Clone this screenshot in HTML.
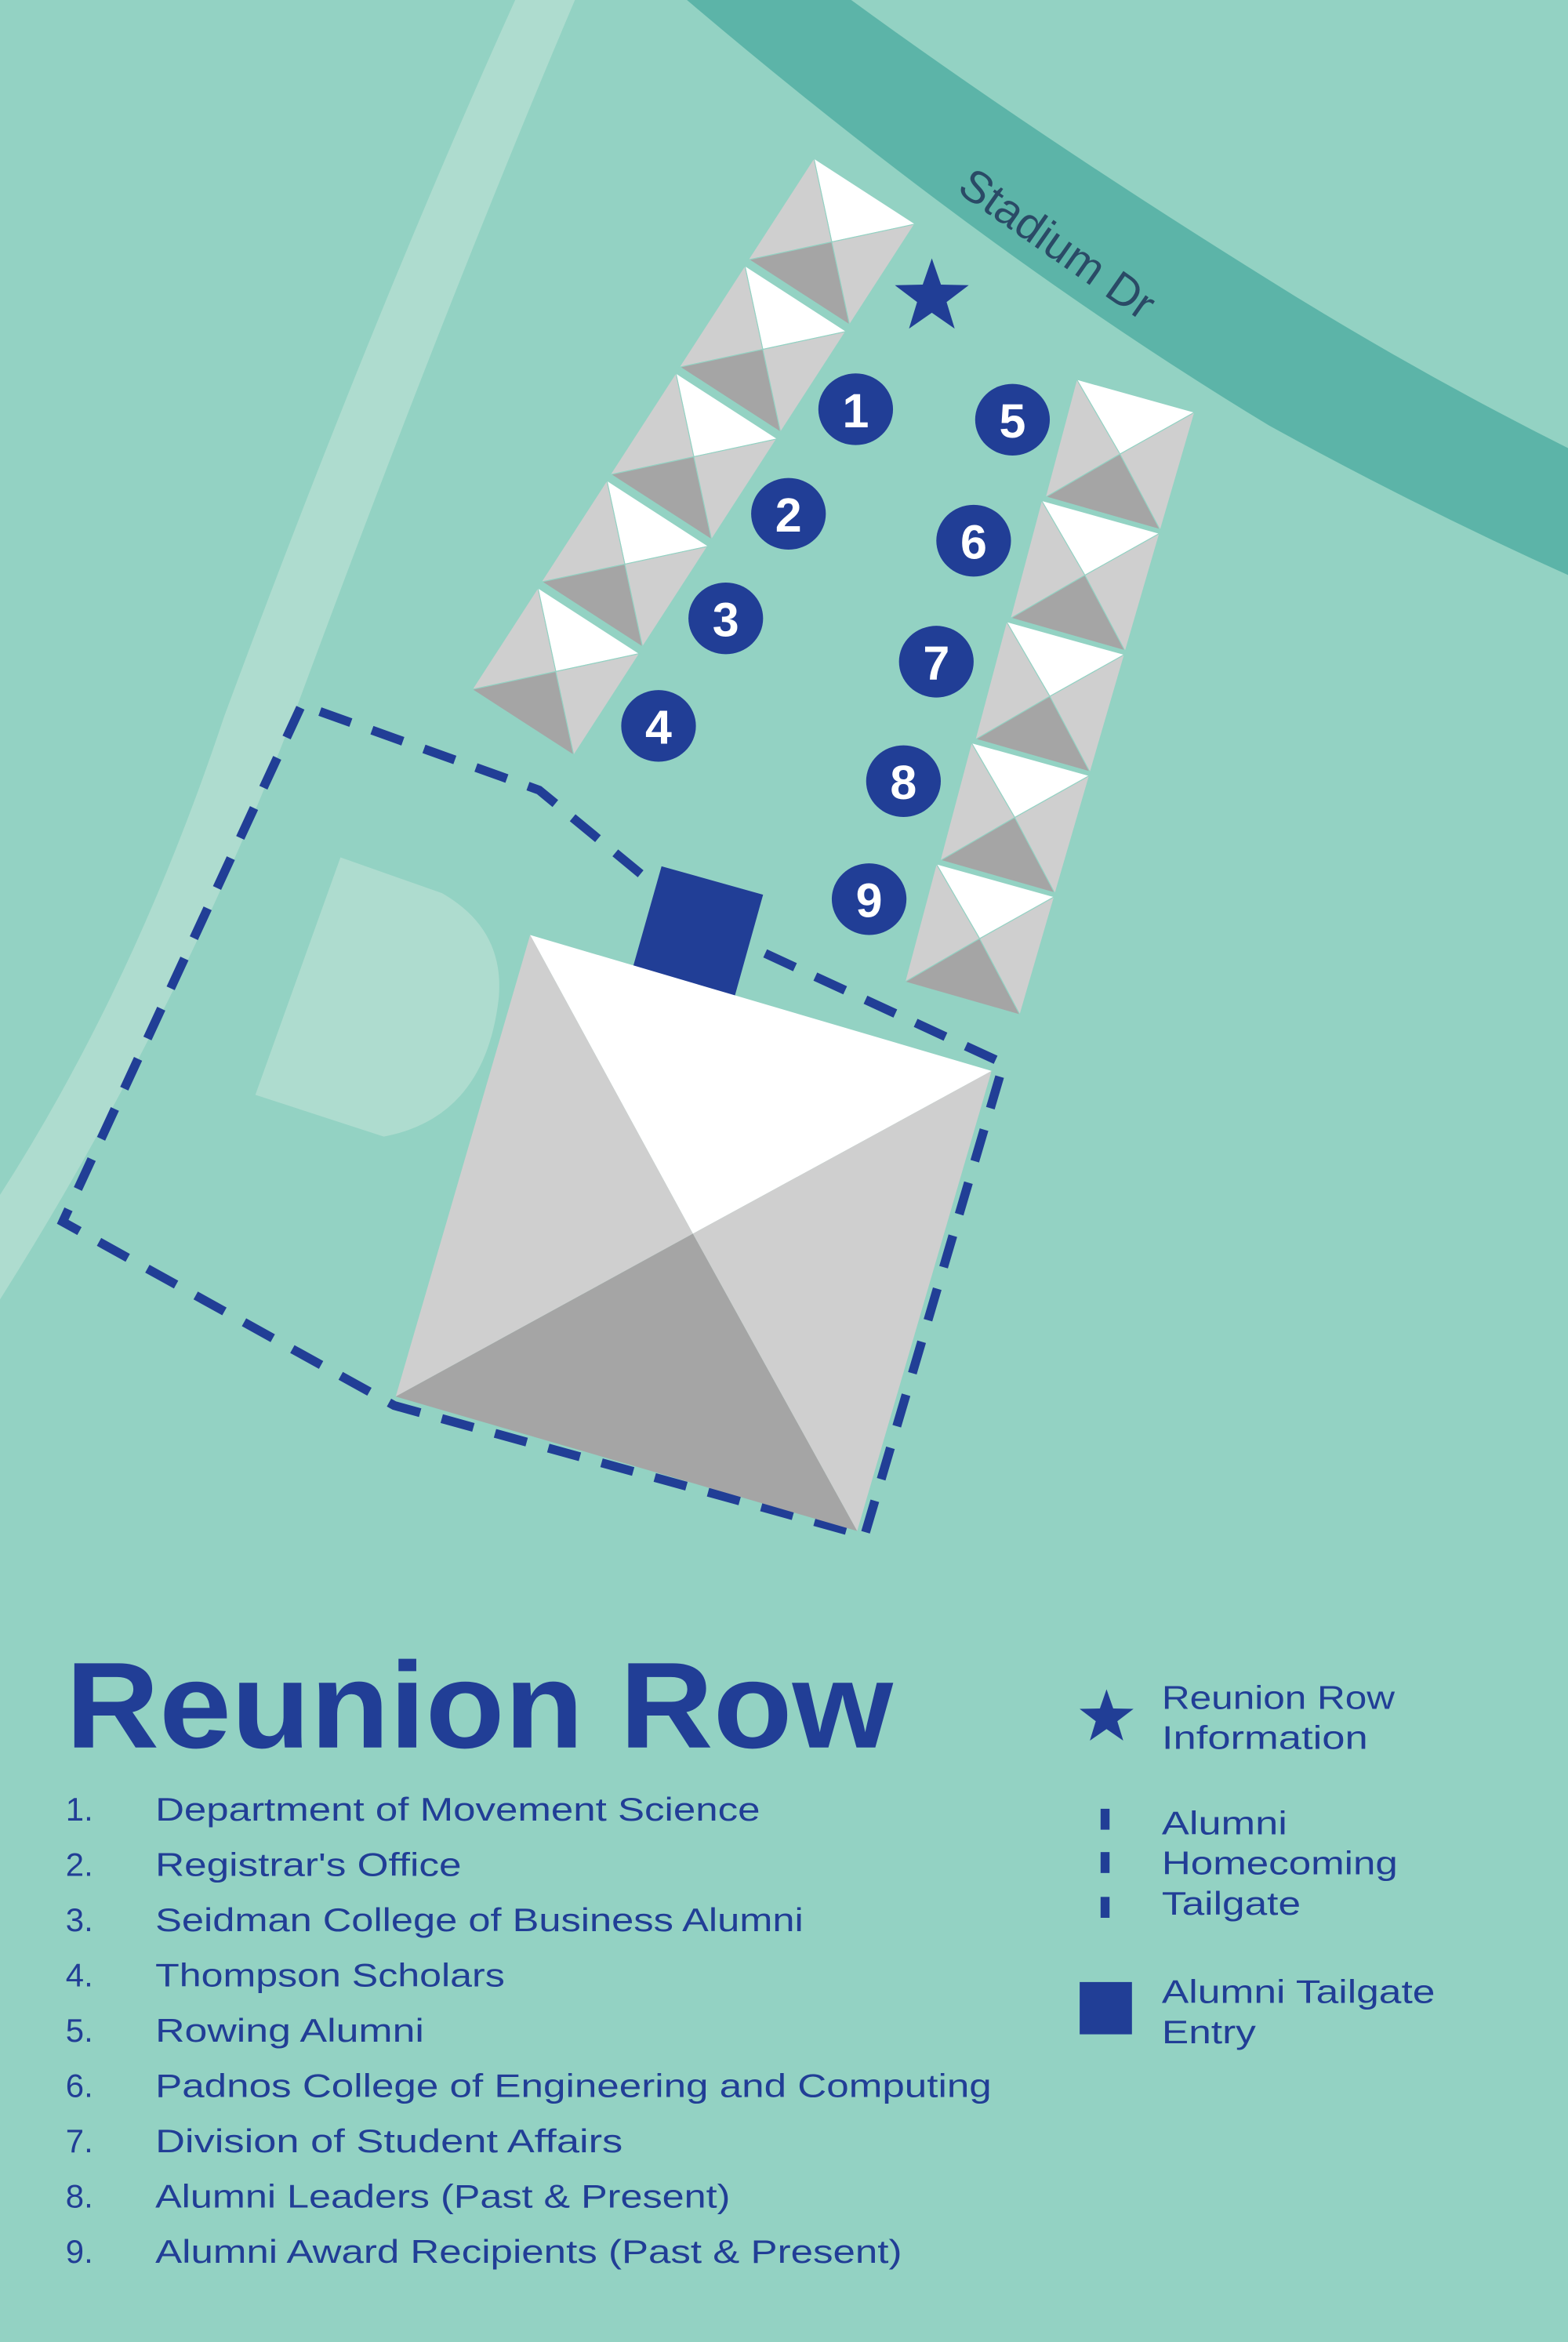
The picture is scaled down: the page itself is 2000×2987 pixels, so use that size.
<!DOCTYPE html>
<html><head><meta charset="utf-8"><style>
html,body{margin:0;padding:0;background:#93d2c3;}
svg{display:block;}
text{font-family:"Liberation Sans",sans-serif;fill:#213e96;}
</style></head><body>
<svg width="2000" height="2987" viewBox="0 0 1050 1568" preserveAspectRatio="none" xmlns="http://www.w3.org/2000/svg">
<defs>
<polygon id="star" points="0,-1 0.235,-0.324 0.951,-0.309 0.380,0.124 0.588,0.809 0,0.4 -0.588,0.809 -0.380,0.124 -0.951,-0.309 -0.235,-0.324"/>
</defs>
<rect width="1050" height="1568" fill="#93d2c3"/>
<!-- light path -->
<path d="M345,0 L385,0 Q300,200 200,470 Q120,680 0,870 L0,800 Q90,660 150,480 Q250,210 345,0 Z" fill="#aedccf"/>
<!-- D shape -->
<path d="M228,574 L296,598 Q338,622 334,668 Q325,748 257,761 L171,733 Z" fill="#aedccf"/>
<!-- road -->
<path d="M460,0 L570,0 Q700,95 870,200 Q960,255 1050,300 L1050,385 Q950,340 850,285 Q660,170 460,0 Z" fill="#5cb4a8"/>
<text x="640" y="128" transform="rotate(35 640 128)" style="font-size:30px;fill:#2a4a66;font-stretch:condensed" textLength="152">Stadium Dr</text>

<g stroke="#93d2c3" stroke-width="0.6" stroke-linejoin="round">
<!-- left tents -->
<g><polygon points="545,106 613,150 557,162" fill="#fff"/><polygon points="545,106 501,174 557,162" fill="#cfcfcf"/><polygon points="501,174 569,218 557,162" fill="#a5a5a5"/><polygon points="613,150 569,218 557,162" fill="#cfcfcf"/></g>
<g><polygon points="498.8,177.9 566.8,221.9 510.8,233.9" fill="#fff"/><polygon points="498.8,177.9 454.8,245.9 510.8,233.9" fill="#cfcfcf"/><polygon points="454.8,245.9 522.8,289.9 510.8,233.9" fill="#a5a5a5"/><polygon points="566.8,221.9 522.8,289.9 510.8,233.9" fill="#cfcfcf"/></g>
<g><polygon points="452.6,249.8 520.6,293.8 464.6,305.8" fill="#fff"/><polygon points="452.6,249.8 408.6,317.8 464.6,305.8" fill="#cfcfcf"/><polygon points="408.6,317.8 476.6,361.8 464.6,305.8" fill="#a5a5a5"/><polygon points="520.6,293.8 476.6,361.8 464.6,305.8" fill="#cfcfcf"/></g>
<g><polygon points="406.4,321.7 474.4,365.7 418.4,377.7" fill="#fff"/><polygon points="406.4,321.7 362.4,389.7 418.4,377.7" fill="#cfcfcf"/><polygon points="362.4,389.7 430.4,433.7 418.4,377.7" fill="#a5a5a5"/><polygon points="474.4,365.7 430.4,433.7 418.4,377.7" fill="#cfcfcf"/></g>
<g><polygon points="360.2,393.6 428.2,437.6 372.2,449.6" fill="#fff"/><polygon points="360.2,393.6 316.2,461.6 372.2,449.6" fill="#cfcfcf"/><polygon points="316.2,461.6 384.2,505.6 372.2,449.6" fill="#a5a5a5"/><polygon points="428.2,437.6 384.2,505.6 372.2,449.6" fill="#cfcfcf"/></g>
<!-- right tents -->
<g><polygon points="721,254 800,276 750,304" fill="#fff"/><polygon points="721,254 700,333 750,304" fill="#cfcfcf"/><polygon points="700,333 777,355 750,304" fill="#a5a5a5"/><polygon points="800,276 777,355 750,304" fill="#cfcfcf"/></g>
<g><polygon points="697.5,335.1 776.5,357.1 726.5,385.1" fill="#fff"/><polygon points="697.5,335.1 676.5,414.1 726.5,385.1" fill="#cfcfcf"/><polygon points="676.5,414.1 753.5,436.1 726.5,385.1" fill="#a5a5a5"/><polygon points="776.5,357.1 753.5,436.1 726.5,385.1" fill="#cfcfcf"/></g>
<g><polygon points="674,416.2 753,438.2 703,466.2" fill="#fff"/><polygon points="674,416.2 653,495.2 703,466.2" fill="#cfcfcf"/><polygon points="653,495.2 730,517.2 703,466.2" fill="#a5a5a5"/><polygon points="753,438.2 730,517.2 703,466.2" fill="#cfcfcf"/></g>
<g><polygon points="650.5,497.3 729.5,519.3 679.5,547.3" fill="#fff"/><polygon points="650.5,497.3 629.5,576.3 679.5,547.3" fill="#cfcfcf"/><polygon points="629.5,576.3 706.5,598.3 679.5,547.3" fill="#a5a5a5"/><polygon points="729.5,519.3 706.5,598.3 679.5,547.3" fill="#cfcfcf"/></g>
<g><polygon points="627,578.4 706,600.4 656,628.4" fill="#fff"/><polygon points="627,578.4 606,657.4 656,628.4" fill="#cfcfcf"/><polygon points="606,657.4 683,679.4 656,628.4" fill="#a5a5a5"/><polygon points="706,600.4 683,679.4 656,628.4" fill="#cfcfcf"/></g>
</g>
<g stroke="#93d2c3" stroke-width="1.5" fill="none">
<polyline points="501,174 569,218 613,150"/><polyline points="454.8,245.9 522.8,289.9 566.8,221.9"/><polyline points="408.6,317.8 476.6,361.8 520.6,293.8"/><polyline points="362.4,389.7 430.4,433.7 474.4,365.7"/>
<polyline points="700,333 777,355"/><polyline points="676.5,414.1 753.5,436.1"/><polyline points="653,495.2 730,517.2"/><polyline points="629.5,576.3 706.5,598.3"/>
</g>

<!-- dashed boundary -->
<path d="M429,585 L361,529 L202,472 L42,818 L264,941 L579,1028 L672,712 L503,634" fill="none" stroke="#213e96" stroke-width="6" stroke-dasharray="22,15"/>
<!-- entry square -->
<polygon points="443,580 511,599 492,667 424,647" fill="#213e96"/>
<!-- big tent -->
<polygon points="355,626 664,717 464,826" fill="#fff"/>
<polygon points="355,626 265,935 464,826" fill="#cfcfcf"/>
<polygon points="265,935 574,1025 464,826" fill="#a5a5a5"/>
<polygon points="664,717 574,1025 464,826" fill="#cfcfcf"/>

<!-- star -->
<use href="#star" transform="translate(624,199) scale(26)" fill="#213e96"/>
<!-- circles -->
<g fill="#213e96">
<ellipse cx="573" cy="274" rx="25" ry="24"/><ellipse cx="528" cy="344" rx="25" ry="24"/><ellipse cx="486" cy="414" rx="25" ry="24"/><ellipse cx="441" cy="486" rx="25" ry="24"/>
<ellipse cx="678" cy="281" rx="25" ry="24"/><ellipse cx="652" cy="362" rx="25" ry="24"/><ellipse cx="627" cy="443" rx="25" ry="24"/><ellipse cx="605" cy="523" rx="25" ry="24"/><ellipse cx="582" cy="602" rx="25" ry="24"/>
</g>
<g style="font-size:32px;font-weight:bold" text-anchor="middle">
<text x="573" y="286" style="fill:#fff">1</text><text x="528" y="356" style="fill:#fff">2</text><text x="486" y="426" style="fill:#fff">3</text><text x="441" y="498" style="fill:#fff">4</text>
<text x="678" y="293" style="fill:#fff">5</text><text x="652" y="374" style="fill:#fff">6</text><text x="627" y="455" style="fill:#fff">7</text><text x="605" y="535" style="fill:#fff">8</text><text x="582" y="614" style="fill:#fff">9</text>
</g>

<!-- legend -->
<text x="44" y="1170" style="font-size:82px;font-weight:bold" textLength="554" lengthAdjust="spacingAndGlyphs">Reunion Row</text>
<g style="font-size:22px">
<text x="44" y="1219">1.</text><text x="104" y="1219" textLength="405" lengthAdjust="spacingAndGlyphs">Department of Movement Science</text>
<text x="44" y="1256">2.</text><text x="104" y="1256" textLength="205" lengthAdjust="spacingAndGlyphs">Registrar's Office</text>
<text x="44" y="1293">3.</text><text x="104" y="1293" textLength="434" lengthAdjust="spacingAndGlyphs">Seidman College of Business Alumni</text>
<text x="44" y="1330">4.</text><text x="104" y="1330" textLength="234" lengthAdjust="spacingAndGlyphs">Thompson Scholars</text>
<text x="44" y="1367">5.</text><text x="104" y="1367" textLength="180" lengthAdjust="spacingAndGlyphs">Rowing Alumni</text>
<text x="44" y="1404">6.</text><text x="104" y="1404" textLength="560" lengthAdjust="spacingAndGlyphs">Padnos College of Engineering and Computing</text>
<text x="44" y="1441">7.</text><text x="104" y="1441" textLength="313" lengthAdjust="spacingAndGlyphs">Division of Student Affairs</text>
<text x="44" y="1478">8.</text><text x="104" y="1478" textLength="385" lengthAdjust="spacingAndGlyphs">Alumni Leaders (Past &amp; Present)</text>
<text x="44" y="1515">9.</text><text x="104" y="1515" textLength="500" lengthAdjust="spacingAndGlyphs">Alumni Award Recipients (Past &amp; Present)</text>
</g>
<use href="#star" transform="translate(741,1150) scale(19)" fill="#213e96"/>
<g style="font-size:22px">
<text x="778" y="1144" textLength="156" lengthAdjust="spacingAndGlyphs">Reunion Row</text>
<text x="778" y="1171" textLength="138" lengthAdjust="spacingAndGlyphs">Information</text>
<text x="778" y="1228" textLength="84" lengthAdjust="spacingAndGlyphs">Alumni</text>
<text x="778" y="1255" textLength="158" lengthAdjust="spacingAndGlyphs">Homecoming</text>
<text x="778" y="1282" textLength="93" lengthAdjust="spacingAndGlyphs">Tailgate</text>
<text x="778" y="1341" textLength="183" lengthAdjust="spacingAndGlyphs">Alumni Tailgate</text>
<text x="778" y="1368" textLength="63" lengthAdjust="spacingAndGlyphs">Entry</text>
</g>
<g fill="#213e96">
<rect x="737" y="1211" width="6" height="14"/><rect x="737" y="1240" width="6" height="14"/><rect x="737" y="1270" width="6" height="14"/>
<rect x="723" y="1327" width="35" height="35"/>
</g>
</svg>
</body></html>
